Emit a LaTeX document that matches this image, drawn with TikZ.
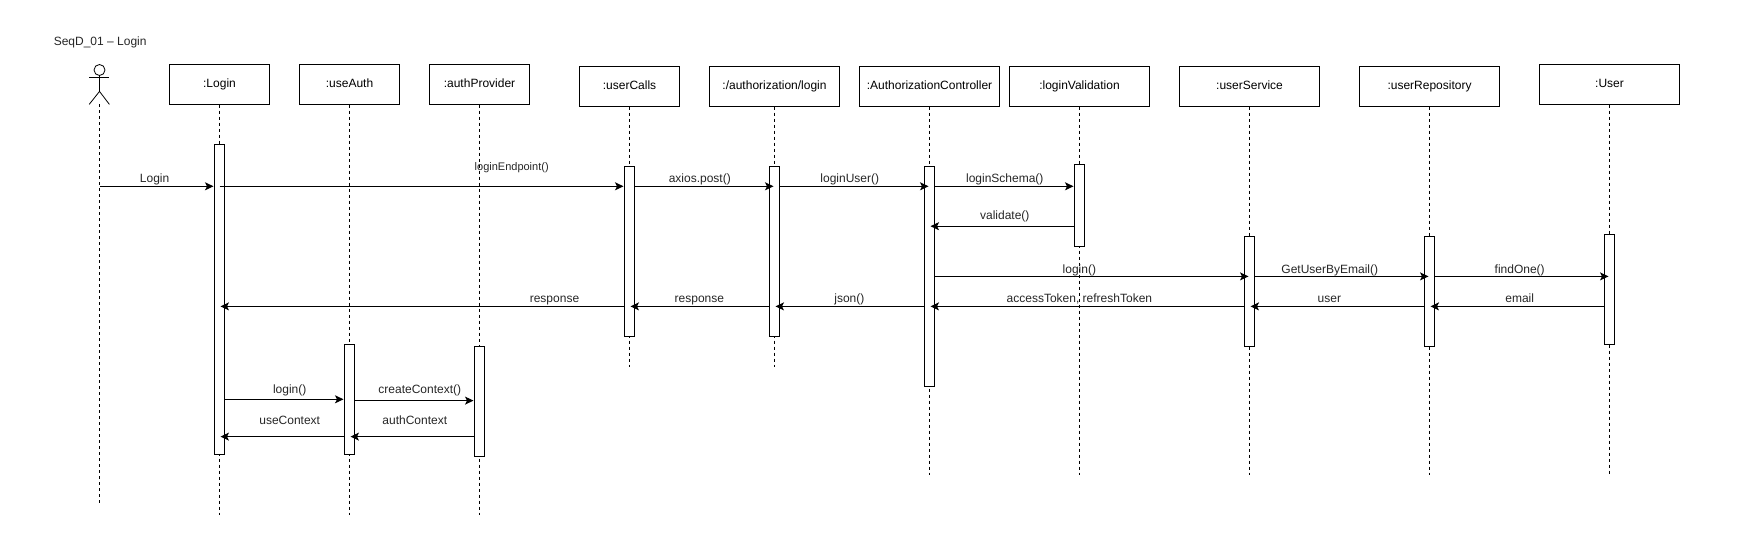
\documentclass[tikz,border=0pt]{standalone}
\usepackage{fontspec}
\setmainfont{Liberation Sans}
\usetikzlibrary{arrows.meta}

\tikzset{
    objbox/.style={draw, line width=1pt, minimum width=#1, minimum height=40pt, inner sep=0pt, outer sep=0pt, text height=9pt, text depth=2.5pt, font=\fontsize{12}{14}\selectfont},
    activebar/.style={draw, fill=white, line width=1pt, minimum width=10pt, inner sep=0pt, outer sep=0pt},
    lifeline/.style={line width=0.8pt, dash pattern=on 3pt off 3pt},
    msg/.style={line width=1pt, shorten >=1pt, -{Stealth[length=8.5pt, width=8pt, inset=2pt]}},
    msglabel/.style={inner sep=0pt, anchor=base, font=\fontsize{12}{14}\selectfont, text=black!85}
}

\begin{document}
\begin{tikzpicture}[x=1pt, y=-1pt]
    \useasboundingbox (0,0) rectangle (1758,535);

    \node [msglabel, anchor=base west] (title) at (53.6,45.3) {SeqD\_01 – Login};

    % Actor
    \node [circle, draw, line width=0.8pt, minimum size=11pt, inner sep=0pt] (actorHead) at (99.5,70) {};
    \coordinate (actorHip) at (99.5,91.4);
    \coordinate (actorFoot) at (99.5,104.4);
    \coordinate (actorEnd) at (99.5,503);
    \draw [line width=0.8pt] (actorHead.south) -- (actorHip);
    \draw [line width=0.8pt] (89.2,77.8) -- (109.4,77.8);
    \draw [line width=0.8pt] (89.2,104.4) -- (actorHip) -- (109.4,104.4);
    \draw [lifeline] (actorFoot) -- (actorEnd);

    % Object boxes: name/centre x/centre y/width/bottom of lifeline/text
    \foreach \name/\x/\y/\w/\bottom/\txt in {
        Login/219.5/84.6/100/514.5/{:Login},
        useAuth/349.5/84.6/100/514.5/{:useAuth},
        authProvider/479.5/84.6/100/514.5/{:authProvider},
        userCalls/629.5/86.5/100/366.8/{:userCalls},
        authLogin/774.5/86.5/130/366.8/{:/authorization/login},
        controller/929.5/86.5/140/475.3/{:AuthorizationController},
        loginValidation/1079.5/86.5/140/475.3/{:loginValidation},
        userService/1249.5/86.5/140/475.3/{:userService},
        userRepository/1429.5/86.5/140/475.3/{:userRepository},
        User/1609.5/84.6/140/473.6/{:User}} {
        \node [objbox=\w pt] (box\name) at (\x,\y) {\txt};
        \coordinate (end\name) at (\x,\bottom);
        \draw [lifeline] (box\name.south) -- (end\name);
    }

    % Activation bars: name/top/bottom
    \foreach \name/\top/\bot in {
        Login/144.3/454.8, useAuth/344.6/454.8, authProvider/346.3/456.2,
        userCalls/166.5/336.7, authLogin/166.5/336.7, controller/166.5/386.6,
        loginValidation/164.5/246.3, userService/236.4/346.6,
        userRepository/236.4/346.6, User/234.4/344.6} {
        \pgfmathsetmacro{\barh}{\bot-\top}
        \pgfmathsetmacro{\barc}{(\bot+\top)/2}
        \node [activebar, minimum height=\barh pt] (bar\name) at (box\name.south |- 0,\barc) {};
    }

    % Messages: start/end/y
    \foreach \from/\to/\y in {
        actorEnd/barLogin.west/186.3,
        barLogin.center/baruserCalls.west/186.3,
        baruserCalls.east/barauthLogin.center/186.3,
        barauthLogin.east/barcontroller.center/186.3,
        barcontroller.east/barloginValidation.west/186.3,
        barloginValidation.west/barcontroller.center/226.2,
        barcontroller.east/baruserService.center/276.4,
        baruserService.east/baruserRepository.center/276.4,
        baruserRepository.east/barUser.center/276.4,
        barUser.west/baruserRepository.center/306.4,
        baruserRepository.west/baruserService.center/306.4,
        baruserService.west/barcontroller.center/306.4,
        barcontroller.west/barauthLogin.center/306.4,
        barauthLogin.west/baruserCalls.center/306.4,
        baruserCalls.west/barLogin.center/306.4,
        barLogin.east/baruseAuth.west/399.3,
        baruseAuth.east/barauthProvider.west/400.6,
        barauthProvider.west/baruseAuth.center/436.6,
        baruseAuth.west/barLogin.center/436.6} {
        \draw [msg] (\from |- 0,\y) -- (\to |- 0,\y);
    }

    % Message labels
    \foreach \i/\x/\y/\txt in {
        1/154.6/182.7/{Login},
        3/699.8/182.7/{axios.post()}, 4/849.8/182.7/{loginUser()},
        5/1004.8/182.7/{loginSchema()}, 6/1004.8/219.8/{validate()},
        7/1079.4/273.3/{login()}, 8/1329.8/273.3/{GetUserByEmail()},
        9/1519.7/273.3/{findOne()}, 10/554.5/302.7/{response},
        11/699.4/302.7/{response}, 12/849.4/302.7/{json()},
        13/1079.4/302.7/{accessToken, refreshToken}, 14/1329.4/302.7/{user},
        15/1519.7/302.7/{email}, 16/289.7/393.3/{login()},
        17/419.8/393.3/{createContext()}, 18/289.7/424.7/{useContext},
        19/414.8/424.7/{authContext}} {
        \node [msglabel] (label\i) at (\x,\y) {\txt};
    }
    \node [msglabel, font=\fontsize{11}{13}\selectfont] (label2) at (511.7,170.7) {loginEndpoint()};
\end{tikzpicture}
\end{document}
